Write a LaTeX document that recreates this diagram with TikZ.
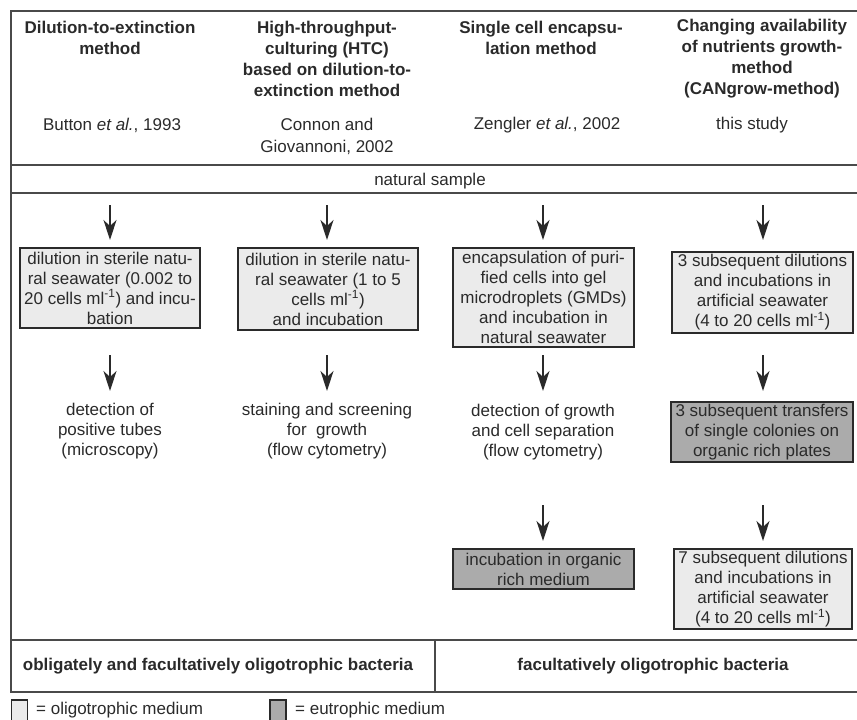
\documentclass[tikz,border=0pt]{standalone}
\usepackage{fontspec}
\setmainfont{Liberation Sans}
\usetikzlibrary{arrows.meta}
\definecolor{ink}{HTML}{2A2A2A}
\definecolor{lightfill}{HTML}{EBEBEB}
\definecolor{darkfill}{HTML}{ABABAB}
\definecolor{rule}{HTML}{4A4A4A}
\newcommand{\sq}{\textsuperscript{-1}}
\begin{document}
\begin{tikzpicture}[x=1pt,y=-1pt,
  every node/.style={text=ink,font=\fontsize{17}{20}\selectfont,align=center,inner sep=0pt},
  title/.style={font=\fontsize{17}{21}\selectfont\bfseries},
  medbox/.style={draw=ink,line width=1.2pt,minimum width=#1,inner sep=0pt},
  lightbox/.style={medbox=#1,fill=lightfill},
  darkbox/.style={medbox=#1,fill=darkfill},
  frameline/.style={draw=rule,line width=1.5pt},
  flow/.style={draw=ink,line width=1.3pt,-{Stealth[length=20pt,width=13pt,inset=6pt]}}]
\useasboundingbox (0,0) rectangle (857,720);
% frame
\draw[frameline] (857,11) -- (11,11) -- (11,692) -- (857,692);
\draw[frameline] (11,165) -- (857,165);
\draw[frameline] (11,193) -- (857,193);
\draw[frameline] (11,640) -- (857,640);
\draw[frameline] (435,640) -- (435,692);
% titles
\node[title] (t1) at (110,37.5) {Dilution-to-extinction\\method};
\node[title] (t2) at (327,58.5) {High-throughput-\\culturing (HTC)\\based on dilution-to-\\extinction method};
\node[title] (t3) at (541,37.5) {Single cell encapsu-\\lation method};
\node[title] (t4) at (762,58.5) {Changing availability\\of nutrients growth-\\method\\(CANgrow-method)};
% citations
\node (c1) at (112,125) {Button \textit{et al.}, 1993};
\node[font=\fontsize{17}{22}\selectfont] (c2) at (327,136) {Connon and\\Giovannoni, 2002};
\node (c3) at (547,125) {Zengler \textit{et al.}, 2002};
\node (c4) at (752,125) {this study};
\node (ns) at (430,181) {natural sample};
% arrow anchors
\foreach \n/\x in {1/110,2/327,3/543,4/763}{
  \coordinate (a\n s) at (\x,205);
  \coordinate (a\n e) at (\x,240);
  \coordinate (b\n s) at (\x,355);
  \coordinate (b\n e) at (\x,391);
}
\foreach \n/\x in {3/543,4/763}{
  \coordinate (d\n s) at (\x,505);
  \coordinate (d\n e) at (\x,541);
}
% boxes
\node[lightbox=180pt,minimum height=80pt] (m1) at (110,288) {dilution in sterile natu-\\ral seawater (0.002 to\\20 cells ml\sq) and incu-\\bation};
\node[lightbox=180pt,minimum height=82pt] (m2) at (328,289) {dilution in sterile natu-\\ral seawater (1 to 5\\cells ml\sq)\\and incubation};
\node[lightbox=181pt,minimum height=99pt] (m3) at (543.5,297.5) {encapsulation of puri-\\fied cells into gel\\microdroplets (GMDs)\\and incubation in\\natural seawater};
\node[lightbox=181pt,minimum height=81pt] (m4) at (762.5,292.5) {3 subsequent dilutions\\and incubations in\\artificial seawater\\(4 to 20 cells ml\sq)};
\node (r1) at (110,431) {detection of\\positive tubes\\(microscopy)};
\node (r2) at (327,431) {staining and screening\\for\ \ growth\\(flow cytometry)};
\node (r3) at (543,432) {detection of growth\\and cell separation\\(flow cytometry)};
\node[darkbox=182pt,minimum height=60pt] (r4) at (762,432) {3 subsequent transfers\\of single colonies on\\organic rich plates};
\node[darkbox=181pt,minimum height=40pt] (s3) at (543.5,569) {incubation in organic\\rich medium};
\node[lightbox=178pt,minimum height=80pt] (s4) at (763,589) {7 subsequent dilutions\\and incubations in\\artificial seawater\\(4 to 20 cells ml\sq)};
% arrows
\foreach \n in {1,2,3,4}{
  \draw[flow] (a\n s) -- (a\n e);
  \draw[flow] (b\n s) -- (b\n e);
}
\foreach \n in {3,4}{
  \draw[flow] (d\n s) -- (d\n e);
}
% bottom
\node[font=\fontsize{17}{20}\selectfont\bfseries] (o1) at (218,666) {obligately and facultatively oligotrophic bacteria};
\node[font=\fontsize{17}{20}\selectfont\bfseries] (o2) at (653,666) {facultatively oligotrophic bacteria};
% legend
\node[lightbox=16pt,minimum height=22pt] (k1) at (19.5,711) {};
\node[anchor=west] (k1t) at (36,710) {= oligotrophic medium};
\node[darkbox=16pt,minimum height=22pt] (k2) at (278,711) {};
\node[anchor=west] (k2t) at (295,710) {= eutrophic medium};
\end{tikzpicture}
\end{document}
